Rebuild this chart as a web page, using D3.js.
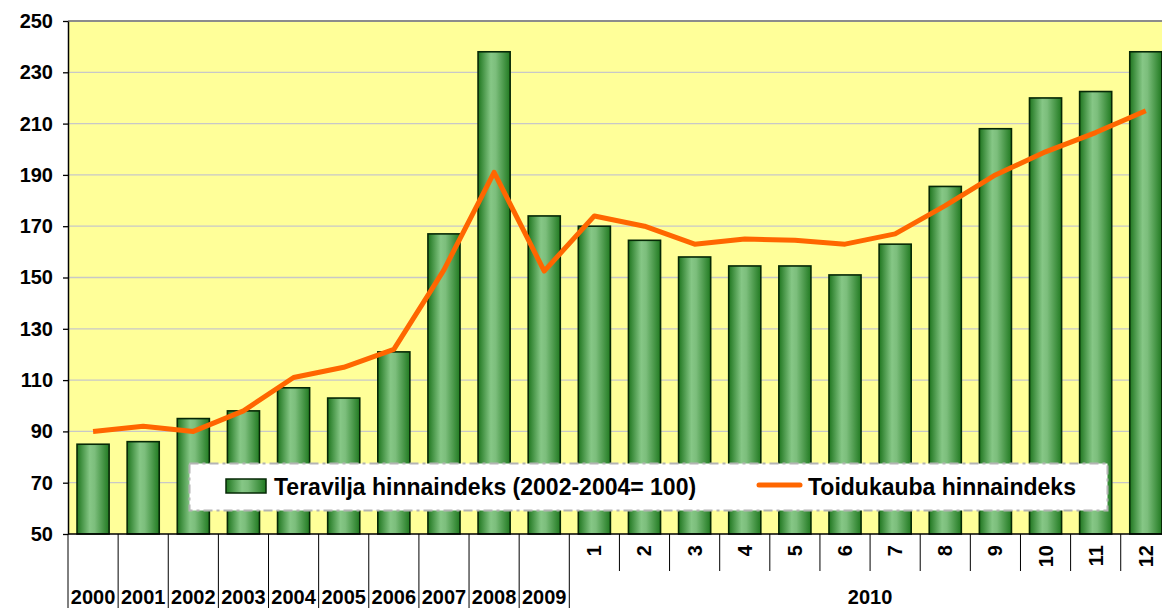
<!DOCTYPE html>
<html>
<head>
<meta charset="utf-8">
<script src="https://cdn.jsdelivr.net/npm/d3@7"></script>
<style>
  body { margin: 0; background: #fff; }
  text { font-family: "Liberation Sans", Arial, sans-serif; font-weight: bold; }
</style>
</head>
<body>
<div id="chart"></div>
<script>
// data
const years = ["2000","2001","2002","2003","2004","2005","2006","2007","2008","2009"];
const months = ["1","2","3","4","5","6","7","8","9","10","11","12"];
const grainIndex = [85, 86, 95, 98, 107, 103, 121, 167, 238, 174,
                    170, 164.5, 158, 154.5, 154.5, 151, 163, 185.5, 208, 220, 222.5, 238];
const foodIndex = [90, 92, 90, 98, 111, 115, 122, 153, 191, 152.5,
                   174, 170, 163, 165, 164.5, 163, 167, 178, 190, 199, 206.5, 215];
const yTicks = [50, 70, 90, 110, 130, 150, 170, 190, 210, 230, 250];
const monthGroupLabel = "2010";
const legendBar = "Teravilja hinnaindeks (2002-2004= 100)";
const legendLine = "Toidukauba hinnaindeks";

const W = 1162, H = 608;
const plotLeft = 68, plotTop = 21, plotBottom = 534;
const keys = years.concat(months.map(m => "m" + m));

let svg = d3.select("#chart").append("svg")
    .attr("width", W).attr("height", H);

let x = d3.scaleBand()
    .domain(keys)
    .range([plotLeft, plotLeft + 22 * 50.13])
    .paddingInner(0.36)
    .paddingOuter(0.18);
let y = d3.scaleLinear().domain([50, 250]).range([plotBottom, plotTop]);
let step = x.step();

// gradient for bars
let grad = svg.append("defs").append("linearGradient")
    .attr("id", "barGrad").attr("x1", "0%").attr("x2", "100%");
grad.append("stop").attr("offset", "0%").attr("stop-color", "#1f761f");
grad.append("stop").attr("offset", "40%").attr("stop-color", "#86c786");
grad.append("stop").attr("offset", "55%").attr("stop-color", "#7cbe7c");
grad.append("stop").attr("offset", "100%").attr("stop-color", "#217a21");

// plot background
svg.append("rect")
    .attr("x", plotLeft).attr("y", plotTop)
    .attr("width", x.range()[1] - plotLeft).attr("height", plotBottom - plotTop)
    .attr("fill", "#ffff99");

// grid
svg.append("g").selectAll("line")
    .data(yTicks.slice(1))
    .enter().append("line")
    .attr("x1", plotLeft).attr("x2", x.range()[1])
    .attr("y1", d => y(d)).attr("y2", d => y(d))
    .attr("stroke", d => d == 250 ? "#8c8c8c" : "#c8c8c8")
    .attr("stroke-width", d => d == 250 ? 2 : 1.3);

// bars
svg.append("g").selectAll("rect")
    .data(grainIndex)
    .enter().append("rect")
    .attr("x", (d, i) => x(keys[i]))
    .attr("y", d => y(d))
    .attr("width", x.bandwidth())
    .attr("height", d => plotBottom - y(d))
    .attr("fill", "url(#barGrad)")
    .attr("stroke", "#062806")
    .attr("stroke-width", 1.6);

// line
let line = d3.line()
    .x((d, i) => x(keys[i]) + x.bandwidth() / 2)
    .y(d => y(d));
svg.append("path")
    .datum(foodIndex)
    .attr("d", line)
    .attr("fill", "none")
    .attr("stroke", "#ff6600")
    .attr("stroke-width", 5)
    .attr("stroke-linejoin", "round");

// y axis
let yAxis = d3.axisLeft(y).tickValues(yTicks).tickSize(5).tickSizeOuter(0).tickPadding(10);
let gy = svg.append("g")
    .attr("transform", "translate(" + plotLeft + ",0)")
    .call(yAxis);
gy.select(".domain").attr("stroke", "#000").attr("stroke-width", 1.5);
gy.selectAll(".tick line").attr("stroke", "#000").attr("stroke-width", 1.3);
gy.selectAll("text").attr("font-size", 20).attr("fill", "#000")
    .attr("font-family", "Liberation Sans, Arial, sans-serif").attr("font-weight", "bold");

// x axis line
svg.append("line")
    .attr("x1", plotLeft).attr("x2", x.range()[1])
    .attr("y1", plotBottom).attr("y2", plotBottom)
    .attr("stroke", "#000").attr("stroke-width", 1.5);

// separators
let sep = svg.append("g").attr("stroke", "#000").attr("stroke-width", 1);
d3.range(keys.length + 1).forEach(i => {
    let bx = plotLeft + i * step;
    let full = i <= years.length || i == keys.length;
    sep.append("line")
        .attr("x1", bx).attr("x2", bx)
        .attr("y1", plotBottom).attr("y2", full ? H : 571);
});

// year labels
svg.append("g").selectAll("text")
    .data(years)
    .enter().append("text")
    .attr("x", d => x(d) + x.bandwidth() / 2)
    .attr("y", 604)
    .attr("text-anchor", "middle")
    .attr("font-size", 20)
    .text(d => d);

// month labels
svg.append("g").selectAll("text")
    .data(months)
    .enter().append("text")
    .attr("transform", d => "translate(" + (x("m" + d) + x.bandwidth() / 2 + 7) + ",545) rotate(-90)")
    .attr("text-anchor", "end")
    .attr("font-size", 20)
    .text(d => d);

let mStart = plotLeft + years.length * step;
svg.append("text")
    .attr("x", (mStart + x.range()[1]) / 2)
    .attr("y", 604)
    .attr("text-anchor", "middle")
    .attr("font-size", 20)
    .text(monthGroupLabel);

// legend
let lg = svg.append("g");
lg.append("rect")
    .attr("x", 189.5).attr("y", 463.5)
    .attr("width", 918).attr("height", 47)
    .attr("fill", "#fff")
    .attr("stroke", "#b4b4b4").attr("stroke-width", 2)
    .attr("stroke-dasharray", "9,4,3,4");
lg.append("rect")
    .attr("x", 226).attr("y", 479).attr("width", 40).attr("height", 14)
    .attr("fill", "url(#barGrad)").attr("stroke", "#062806").attr("stroke-width", 1.5);
lg.append("text").attr("x", 274).attr("y", 495).attr("font-size", 23).text(legendBar);
lg.append("line")
    .attr("x1", 759).attr("x2", 800).attr("y1", 485).attr("y2", 485)
    .attr("stroke", "#ff6600").attr("stroke-width", 5).attr("stroke-linecap", "round");
lg.append("text").attr("x", 808).attr("y", 495).attr("font-size", 23).text(legendLine);
</script>
</body>
</html>
